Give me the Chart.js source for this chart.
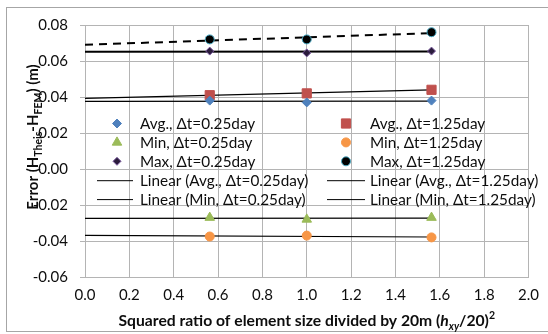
<!DOCTYPE html>
<html>
<head>
<meta charset="utf-8">
<script src="https://cdn.jsdelivr.net/npm/chart.js@4.4.0/dist/chart.umd.min.js"></script>
<style>
    body { margin: 0; background: #fff; }
    #wrap { width: 548px; height: 334px; position: relative; }
</style>
</head>
<body>
<div id="wrap"><canvas id="error_chart"></canvas></div>
<script>
// (h_xy / 20)^2 for element sizes 15, 20 and 25 m
var sizeRatio = [0.5625, 1.0, 1.5625];

var avgShort = [0.038, 0.037, 0.038];     // Avg., dt = 0.25 day
var avgLong = [0.041, 0.042, 0.044];      // Avg., dt = 1.25 day
var minShort = [-0.027, -0.028, -0.027];  // Min, dt = 0.25 day
var minLong = [-0.0375, -0.037, -0.038];  // Min, dt = 1.25 day
var maxShort = [0.0655, 0.0645, 0.0655];  // Max, dt = 0.25 day
var maxLong = [0.072, 0.072, 0.076];      // Max, dt = 1.25 day

var seriesNames = [
    "Avg., \u0394t=0.25day", "Avg., \u0394t=1.25day",
    "Min, \u0394t=0.25day", "Min, \u0394t=1.25day",
    "Max, \u0394t=0.25day", "Max, \u0394t=1.25day",
    "Linear (Avg., \u0394t=0.25day)", "Linear (Avg., \u0394t=1.25day)",
    "Linear (Min, \u0394t=0.25day)", "Linear (Min, \u0394t=1.25day)"
];

var xMin = 0, xMax = 2.0, xStep = 0.2;
var yMin = -0.06, yMax = 0.08, yStep = 0.02;

var FONT = "Lato, 'DejaVu Sans', sans-serif";
var GRID = '#b4b4b4';
var INK = '#0d0d0d';

function points(ys) {
    return sizeRatio.map(function (x, i) { return { x: x, y: ys[i] }; });
}

// least squares trend, drawn from x = 0 to the last sample like a spreadsheet trendline
function trend(ys) {
    var n = sizeRatio.length, sx = 0, sy = 0, sxx = 0, sxy = 0;
    for (var i = 0; i < n; i++) {
        sx += sizeRatio[i]; sy += ys[i];
        sxx += sizeRatio[i] * sizeRatio[i]; sxy += sizeRatio[i] * ys[i];
    }
    var m = (n * sxy - sx * sy) / (n * sxx - sx * sx);
    var b = (sy - m * sx) / n;
    var last = sizeRatio[n - 1];
    return [{ x: 0, y: b }, { x: last, y: b + m * last }];
}

function marker(label, ys, style, r, fill, stroke) {
    return {
        label: label, data: points(ys), pointStyle: style, pointRadius: r, pointHoverRadius: r,
        backgroundColor: fill, borderColor: stroke, pointBorderWidth: 1, showLine: false, order: 1
    };
}

function trendLine(label, ys, width, dash) {
    return {
        label: label, data: trend(ys), showLine: true, pointRadius: 0, borderColor: '#000',
        borderWidth: width, borderDash: dash || [], backgroundColor: '#000', order: 2
    };
}

var datasets = [
    marker(seriesNames[0], avgShort, 'rectRot', 4.5, '#4f81bd', '#4f81bd'),
    marker(seriesNames[1], avgLong, 'rect', 6.5, '#c0504d', '#c0504d'),
    marker(seriesNames[2], minShort, 'triangle', 5.5, '#9bbb59', '#9bbb59'),
    marker(seriesNames[3], minLong, 'circle', 4.5, '#f79646', '#f79646'),
    marker(seriesNames[4], maxShort, 'rectRot', 4, '#2b1c3c', '#7a5a9e'),
    marker(seriesNames[5], maxLong, 'circle', 4.5, '#000', '#4bacc6'),
    trendLine(seriesNames[6], avgShort, 1.2),
    trendLine(seriesNames[7], avgLong, 1.2),
    trendLine(seriesNames[8], minShort, 1.2),
    trendLine(seriesNames[9], minLong, 1.2),
    trendLine("Linear (Max, \u0394t=0.25day)", maxShort, 2),
    trendLine("Linear (Max, \u0394t=1.25day)", maxLong, 2, [8, 6])
];

function drawShape(ctx, style, x, y, r, fill, stroke) {
    ctx.save();
    ctx.beginPath();
    if (style === 'rectRot') {
        ctx.moveTo(x, y - r); ctx.lineTo(x + r, y); ctx.lineTo(x, y + r); ctx.lineTo(x - r, y);
    } else if (style === 'rect') {
        var s = r * Math.SQRT1_2;
        ctx.rect(x - s, y - s, 2 * s, 2 * s);
    } else if (style === 'triangle') {
        for (var k = 0; k < 3; k++) {
            var a = k * 2 * Math.PI / 3;
            var px = x + Math.sin(a) * r, py = y - Math.cos(a) * r;
            if (k === 0) ctx.moveTo(px, py); else ctx.lineTo(px, py);
        }
    } else {
        ctx.arc(x, y, r, 0, Math.PI * 2);
    }
    ctx.closePath();
    ctx.fillStyle = fill; ctx.fill();
    ctx.strokeStyle = stroke; ctx.lineWidth = 1; ctx.stroke();
    ctx.restore();
}

// text made of runs with their own font and baseline shift (sub/superscripts)
function richWidth(ctx, runs) {
    var w = 0;
    runs.forEach(function (r) { ctx.font = r.font; w += ctx.measureText(r.text).width; });
    return w;
}
function drawRich(ctx, runs, cx, baseline) {
    var x = cx - richWidth(ctx, runs) / 2;
    ctx.textAlign = 'left';
    ctx.textBaseline = 'alphabetic';
    runs.forEach(function (r) {
        ctx.font = r.font;
        ctx.fillText(r.text, x, baseline + (r.dy || 0));
        x += ctx.measureText(r.text).width;
    });
}

var framePlugin = {
    id: 'frame',
    beforeDraw: function (chart) {
        var ctx = chart.ctx;
        ctx.save();
        ctx.fillStyle = '#fff';
        ctx.fillRect(0, 0, chart.width, chart.height);
        ctx.strokeStyle = '#a6a6a6';
        ctx.lineWidth = 1;
        ctx.strokeRect(6.5, 7.5, 600, 324);
        ctx.restore();
    }
};

var titlesPlugin = {
    id: 'axisTitles',
    afterDraw: function (chart) {
        var ctx = chart.ctx, area = chart.chartArea;
        var big = 'bold 15.7px ' + FONT, small = 'bold 10.5px ' + FONT;
        ctx.save();
        ctx.fillStyle = INK;
        drawRich(ctx, [
            { text: 'Squared ratio of element size divided by 20m (', font: big },
            { text: 'h', font: 'italic ' + big },
            { text: 'xy', font: 'italic ' + small, dy: 4 },
            { text: '/20)', font: big },
            { text: '2', font: small, dy: -7 }
        ], (area.left + area.right) / 2, 326);

        var yBig = 'bold 15px ' + FONT;
        ctx.translate(37.5, 137);
        ctx.rotate(-Math.PI / 2);
        drawRich(ctx, [
            { text: 'Error (H', font: yBig },
            { text: 'Theis', font: small, dy: 4 },
            { text: '-H', font: yBig },
            { text: 'FEM', font: small, dy: 4 },
            { text: ') (m)', font: yBig }
        ], 0, 0);
        ctx.restore();
    }
};

// two column legend sitting inside the plot area
var legendPlugin = {
    id: 'insideLegend',
    afterDatasetsDraw: function (chart) {
        var ctx = chart.ctx;
        var cols = [{ mark: 117, line: [97, 133], text: 140 }, { mark: 346, line: [327, 365], text: 370 }];
        ctx.save();
        ctx.font = '15.3px ' + FONT;
        ctx.textBaseline = 'middle';
        ctx.textAlign = 'left';
        for (var i = 0; i < seriesNames.length; i++) {
            var c = cols[i % 2], y = 123.5 + Math.floor(i / 2) * 18.9;
            var ds = chart.data.datasets[i];
            if (ds.showLine) {
                ctx.strokeStyle = '#000'; ctx.lineWidth = 1;
                ctx.beginPath(); ctx.moveTo(c.line[0], y + 0.5); ctx.lineTo(c.line[1], y + 0.5); ctx.stroke();
            } else {
                drawShape(ctx, ds.pointStyle, c.mark, y, ds.pointRadius, ds.backgroundColor, ds.borderColor);
            }
            ctx.fillStyle = INK;
            ctx.fillText(seriesNames[i], c.text, y + 1);
        }
        ctx.restore();
    }
};

new Chart(document.getElementById("error_chart").getContext("2d"), {
    type: 'scatter',
    data: { datasets: datasets },
    options: {
        responsive: true,
        maintainAspectRatio: false,
        animation: false,
        layout: { padding: { top: 25, right: 19, left: 0, bottom: 0 } },
        plugins: { legend: { display: false }, tooltip: { enabled: false } },
        scales: {
            x: {
                type: 'linear', min: xMin, max: xMax,
                afterFit: function (scale) { scale.height = 57; },
                grid: { color: GRID, drawTicks: false },
                border: { color: GRID },
                ticks: {
                    stepSize: xStep, padding: 9, color: INK,
                    font: { family: FONT, size: 15 },
                    callback: function (v) { return v.toFixed(1); }
                }
            },
            y: {
                type: 'linear', min: yMin, max: yMax,
                afterFit: function (scale) { scale.width = 85; },
                grid: { color: GRID, tickLength: 5, tickColor: GRID },
                border: { color: GRID },
                ticks: {
                    stepSize: yStep, padding: 12, color: INK,
                    font: { family: FONT, size: 15 },
                    callback: function (v) { return v.toFixed(2); }
                }
            }
        }
    },
    plugins: [framePlugin, titlesPlugin, legendPlugin]
});
</script>
</body>
</html>
